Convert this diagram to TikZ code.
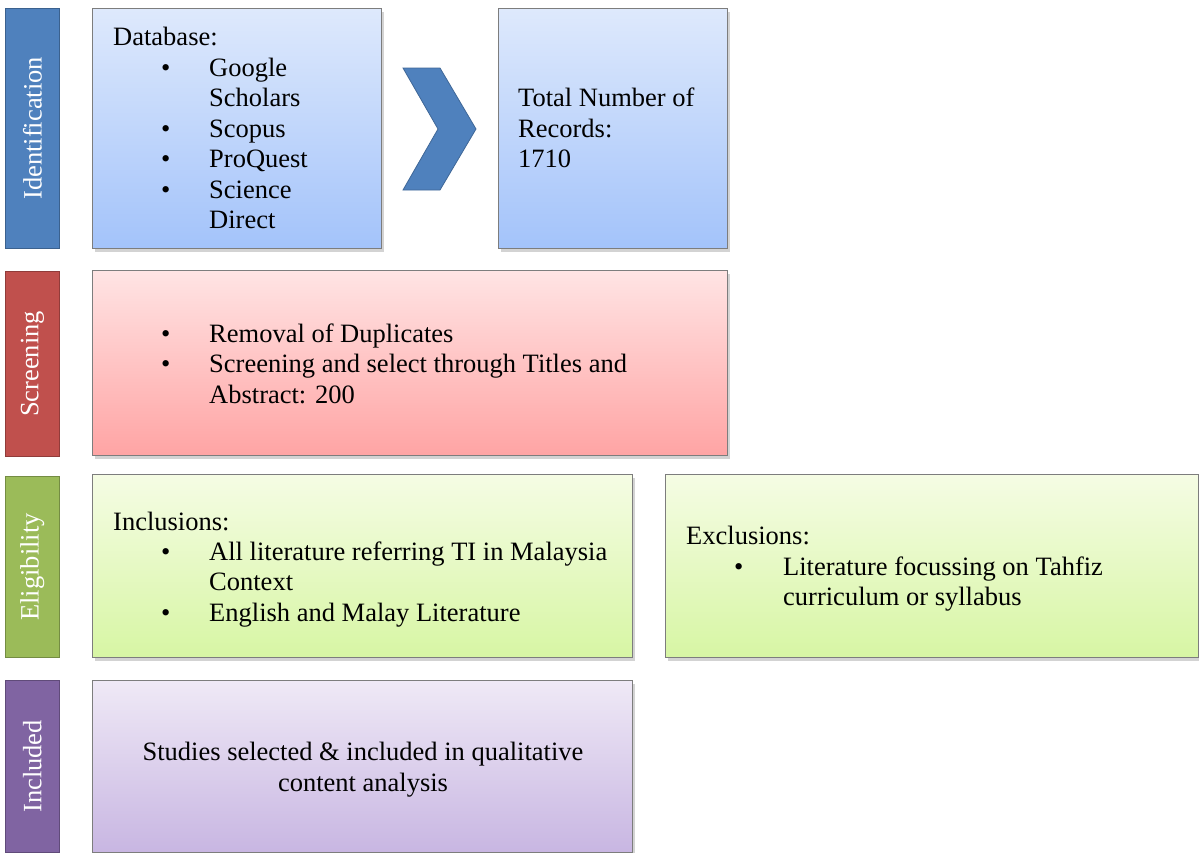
\documentclass[tikz,border=0pt]{standalone}
\usepackage{fontspec}
\setmainfont{Liberation Serif}
\usetikzlibrary{shadows}
\definecolor{barblue}{RGB}{79,129,189}
\definecolor{barred}{RGB}{192,80,77}
\definecolor{bargreen}{RGB}{155,187,89}
\definecolor{barpurple}{RGB}{128,100,162}
\definecolor{blueT}{RGB}{222,233,252}
\definecolor{blueB}{RGB}{163,195,250}
\definecolor{redT}{RGB}{255,228,228}
\definecolor{redB}{RGB}{255,164,164}
\definecolor{greenT}{RGB}{245,252,228}
\definecolor{greenB}{RGB}{215,246,164}
\definecolor{purpleT}{RGB}{239,233,246}
\definecolor{purpleB}{RGB}{200,182,226}
\definecolor{boxgray}{RGB}{125,125,125}
\tikzset{
  bar/.style={draw=#1!75!black, fill=#1, line width=0.8pt, anchor=north west, inner sep=0pt},
  box/.style 2 args={draw=boxgray, line width=1.1pt, top color=#1, bottom color=#2, anchor=north west, inner sep=0pt,
    drop shadow={opacity=0.35, shadow xshift=2pt, shadow yshift=-3pt}},
  txt/.style={inner sep=0pt, anchor=base west, font=\fontsize{26.5}{30.5}\selectfont},
  ctxt/.style={inner sep=0pt, anchor=base, font=\fontsize{26.5}{30.5}\selectfont},
  lbl/.style={inner sep=0pt, text=white, rotate=90, font=\fontsize{26.5}{30.5}\selectfont},
  chev/.style={fill=barblue, draw=barblue!80!black, line width=0.8pt, line join=miter},
}
\newcommand{\bul}[1]{\makebox[48pt][l]{\textbullet}#1}
\begin{document}
\begin{tikzpicture}[x=1pt,y=-1pt]
\useasboundingbox (0,0) rectangle (1199,852);
% side bars
\node[bar=barblue, minimum width=54pt, minimum height=240pt] (barI) at (5,8) {};
\node[bar=barred, minimum width=54pt, minimum height=185pt] (barS) at (5,271) {};
\node[bar=bargreen, minimum width=54pt, minimum height=181pt] (barE) at (5,476) {};
\node[bar=barpurple, minimum width=54pt, minimum height=172pt] (barN) at (5,680) {};
\node[lbl] (lI) at (barI.center) {\raisebox{-0.25em}{Identification}};
\node[lbl] (lS) at (barS.center) {\raisebox{-0.25em}{Screening}};
\node[lbl] (lE) at (barE.center) {\raisebox{-0.25em}{Eligibility}};
\node[lbl] (lN) at (barN.center) {\raisebox{-0.25em}{Included}};
% boxes
\node[box={blueT}{blueB}, minimum width=289pt, minimum height=240pt] (db) at (92,8) {};
\node[box={blueT}{blueB}, minimum width=229pt, minimum height=240pt] (tot) at (498,8) {};
\node[box={redT}{redB}, minimum width=635pt, minimum height=185pt] (scr) at (92,270) {};
\node[box={greenT}{greenB}, minimum width=540pt, minimum height=183pt] (inc) at (92,474) {};
\node[box={greenT}{greenB}, minimum width=533pt, minimum height=183pt] (exc) at (665,474) {};
\node[box={purpleT}{purpleB}, minimum width=540pt, minimum height=172pt] (fin) at (92,680) {};
% chevron
\coordinate (c1) at (403,68);
\coordinate (c2) at (440,68);
\coordinate (c3) at (476,129);
\coordinate (c4) at (440,190);
\coordinate (c5) at (403,190);
\coordinate (c6) at (438,129);
\draw[chev] (c1) -- (c2) -- (c3) -- (c4) -- (c5) -- (c6) -- cycle;
% database text
\node[txt] (t1) at (113,45) {Database:};
\node[txt] (t2) at (161,76) {\bul{Google}};
\node[txt] (t3) at (209,106) {Scholars};
\node[txt] (t4) at (161,137) {\bul{Scopus}};
\node[txt] (t5) at (161,167) {\bul{ProQuest}};
\node[txt] (t6) at (161,198) {\bul{Science}};
\node[txt] (t7) at (209,228) {Direct};
% total
\node[txt] (r1) at (518,106) {Total Number of};
\node[txt] (r2) at (518,137) {Records:};
\node[txt] (r3) at (518,167) {1710};
% screening
\node[txt] (s1) at (161,342) {\bul{Removal of Duplicates}};
\node[txt] (s2) at (161,372) {\bul{Screening and select through Titles and}};
\node[txt] (s3) at (209,403) {Abstract: 200};
% inclusions
\node[txt] (i1) at (113,530) {Inclusions:};
\node[txt] (i2) at (161,560) {\bul{All literature referring TI in Malaysia}};
\node[txt] (i3) at (209,590) {Context};
\node[txt] (i4) at (161,621) {\bul{English and Malay Literature}};
% exclusions
\node[txt] (e1) at (686,544) {Exclusions:};
\node[txt] (e2) at (734,575) {\makebox[49pt][l]{\textbullet}Literature focussing on Tahfiz};
\node[txt] (e3) at (783,605) {curriculum or syllabus};
% included
\node[ctxt] (f1) at (363,760) {Studies selected \& included in qualitative};
\node[ctxt] (f2) at (363,791) {content analysis};
\end{tikzpicture}
\end{document}
